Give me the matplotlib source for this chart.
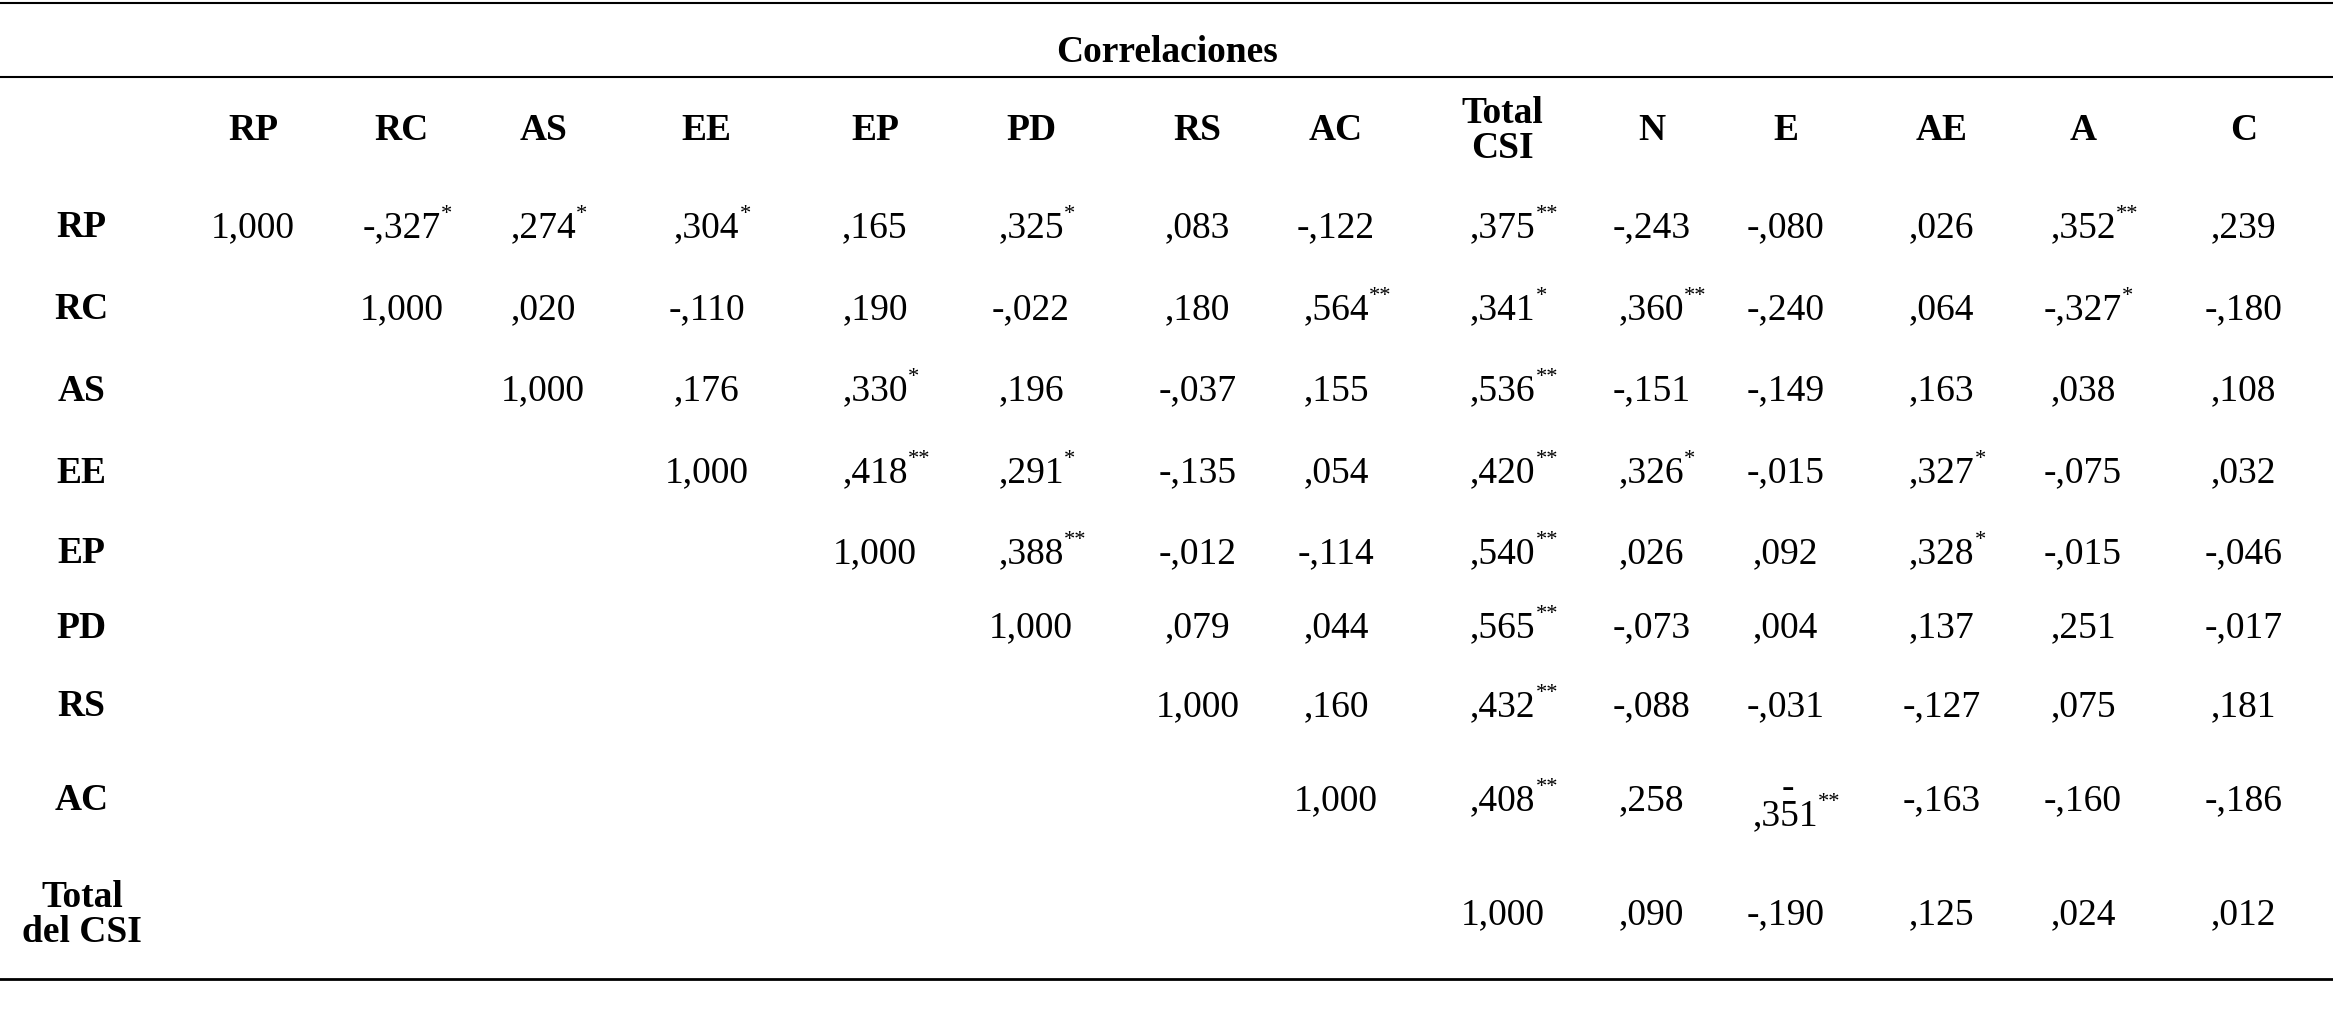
import matplotlib
matplotlib.use("Agg")
import matplotlib.pyplot as plt

title = "Correlaciones"
col_labels = ["RP", "RC", "AS", "EE", "EP", "PD", "RS", "AC", "Total\nCSI", "N", "E", "AE", "A", "C"]
row_labels = ["RP", "RC", "AS", "EE", "EP", "PD", "RS", "AC", "Total\ndel CSI"]
values = [
    ["1,000", "-,327*", ",274*", ",304*", ",165", ",325*", ",083", "-,122", ",375**", "-,243", "-,080", ",026", ",352**", ",239"],
    ["", "1,000", ",020", "-,110", ",190", "-,022", ",180", ",564**", ",341*", ",360**", "-,240", ",064", "-,327*", "-,180"],
    ["", "", "1,000", ",176", ",330*", ",196", "-,037", ",155", ",536**", "-,151", "-,149", ",163", ",038", ",108"],
    ["", "", "", "1,000", ",418**", ",291*", "-,135", ",054", ",420**", ",326*", "-,015", ",327*", "-,075", ",032"],
    ["", "", "", "", "1,000", ",388**", "-,012", "-,114", ",540**", ",026", ",092", ",328*", "-,015", "-,046"],
    ["", "", "", "", "", "1,000", ",079", ",044", ",565**", "-,073", ",004", ",137", ",251", "-,017"],
    ["", "", "", "", "", "", "1,000", ",160", ",432**", "-,088", "-,031", "-,127", ",075", ",181"],
    ["", "", "", "", "", "", "", "1,000", ",408**", ",258", "-,351**", "-,163", "-,160", "-,186"],
    ["", "", "", "", "", "", "", "", "1,000", ",090", "-,190", ",125", ",024", ",012"],
]

W, H = 1568.0, 678.0
col_x = [170, 270, 365, 475, 588, 693, 805, 898, 1010, 1110, 1200, 1305, 1400, 1508]
row_y = [153, 208, 263, 318, 372, 422, 475, 538, 615]
row_x = 55
head_y = 88

fig = plt.figure(figsize=(23.33, 10.09), dpi=100)
fig.patch.set_facecolor("white")
FONT = "Liberation Serif"
FS = 27

def fx(x): return x / W
def fy(y): return 1 - y / H

for y, lw in [(2, 1.5), (52, 1.5), (658, 2)]:
    fig.add_artist(plt.Line2D([0, 1], [fy(y), fy(y)], color="black", lw=lw, transform=fig.transFigure))

fig.text(fx(784), fy(35), title, ha="center", va="center", fontsize=FS, fontweight="bold", family=FONT)
for x, lab in zip(col_x, col_labels):
    fig.text(fx(x), fy(head_y), lab, ha="center", va="center", fontsize=FS, fontweight="bold", family=FONT, linespacing=1.0)
for y, lab in zip(row_y, row_labels):
    fig.text(fx(row_x), fy(y), lab, ha="center", va="center", fontsize=FS, fontweight="bold", family=FONT, linespacing=1.0)

renderer = fig.canvas.get_renderer()
for r, row in enumerate(values):
    for c, val in enumerate(row):
        if not val:
            continue
        stars = val.count("*")
        num = val.rstrip("*")
        x, y = fx(col_x[c]), fy(row_y[r])
        if r == 7 and c == 10:
            num = num[1:]
            yt = y - 0.015
            t = fig.text(x, yt, num, ha="center", va="center", fontsize=FS, family=FONT)
            fig.text(x + 0.001, y + 0.012, "-", ha="center", va="center", fontsize=FS, family=FONT)
        else:
            yt = y
            t = fig.text(x, y, num, ha="center", va="center", fontsize=FS, family=FONT)
        if stars:
            bb = t.get_window_extent(renderer)
            xr = bb.x1 / fig.bbox.width
            fig.text(xr, yt + 0.004, "*" * stars, ha="left", va="bottom", fontsize=FS * 0.6, family=FONT)

fig.savefig("out.png", dpi=100, facecolor="white")
